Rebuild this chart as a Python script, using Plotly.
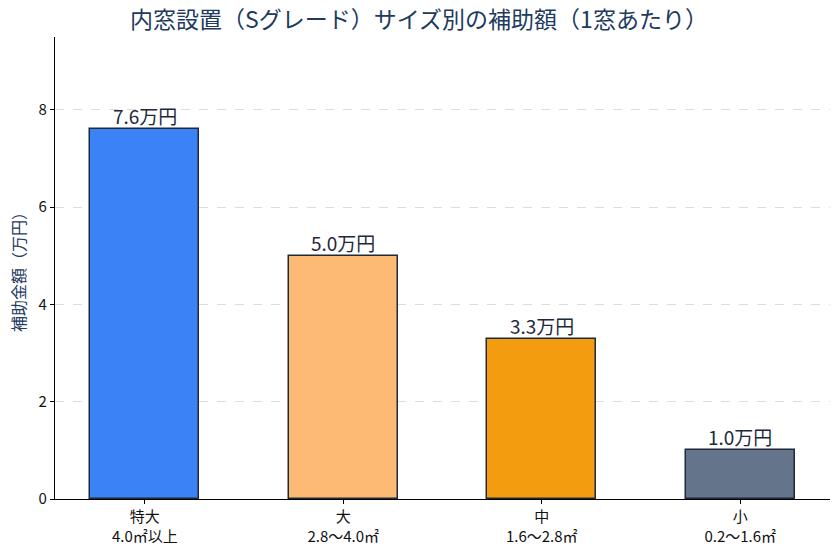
import plotly.graph_objects as go

categories = ["特大<br>4.0㎡以上", "大<br>2.8〜4.0㎡", "中<br>1.6〜2.8㎡", "小<br>0.2〜1.6㎡"]
values = [7.6, 5.0, 3.3, 1.0]
labels = ["7.6万円", "5.0万円", "3.3万円", "1.0万円"]
colors = ["#3b82f6", "#fdba74", "#f39c0f", "#64748b"]

FONT = "Noto Sans CJK JP"
xs = list(range(len(categories)))
fig = go.Figure()
fig.add_trace(go.Bar(
    x=xs, y=values, width=0.55,
    marker=dict(color=colors, line=dict(color="#1e293b", width=1.5)),
))
for x, v, t in zip(xs, values, labels):
    fig.add_annotation(x=x, y=v, text=t, showarrow=False, yanchor="bottom", yshift=-2,
                       font=dict(size=19, color="#1e293b", family=FONT))
fig.update_layout(
    width=838, height=553, paper_bgcolor="white", plot_bgcolor="white",
    margin=dict(l=55, r=8, t=37, b=54),
    font=dict(family=FONT, color="#111"),
    title=dict(text="内窓設置（Sグレード）サイズ別の補助額（1窓あたり）", x=0.5, xanchor="center",
               y=1 - 20/553, yanchor="middle", font=dict(size=23, color="#1e3a5f", family=FONT)),
    showlegend=False, bargap=0,
)
fig.update_xaxes(range=[-0.4525, 3.4525], tickvals=xs, ticktext=categories,
                 showline=True, linecolor="black", linewidth=1.2, ticks="outside", ticklen=4,
                 tickcolor="black", tickfont=dict(size=15, color="#111"), showgrid=False, zeroline=False)
fig.update_yaxes(range=[0, 9.5], tickvals=[0, 2, 4, 6, 8], showline=True, linecolor="black", linewidth=1.2,
                 ticks="outside", ticklen=4, tickcolor="black", tickfont=dict(size=15, color="#111"),
                 showgrid=True, gridcolor="#dcdcdc", griddash="dash", gridwidth=1, zeroline=False,
                 title=dict(text="補助金額（万円）", font=dict(size=16, color="#1e3a5f"), standoff=8))
fig.write_html("out.html")
